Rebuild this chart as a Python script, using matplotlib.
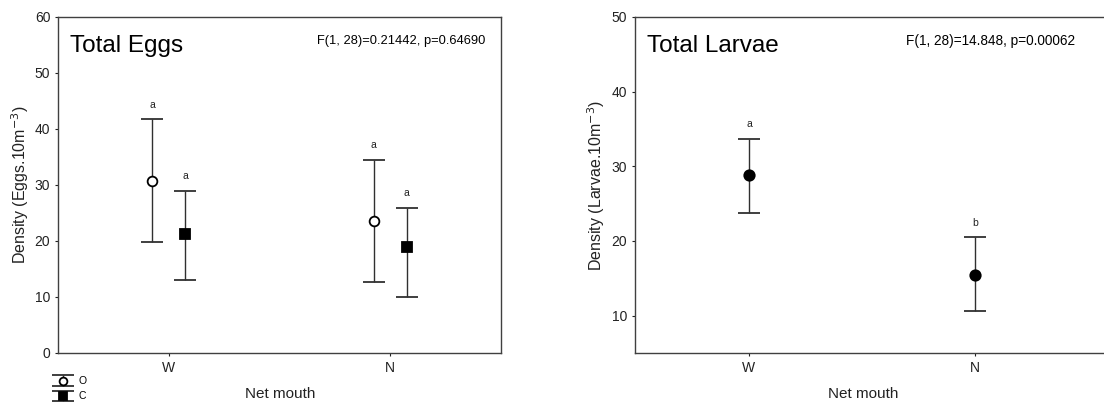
import numpy as np
import matplotlib.pyplot as plt

plt.rcParams['font.family'] = ['Liberation Sans', 'DejaVu Sans']

# datos
groups = ['W', 'N']
egg_O_mean = [30.8, 23.6]
egg_O_low = [19.8, 12.7]
egg_O_high = [41.7, 34.5]
egg_C_mean = [21.2, 19.0]
egg_C_low = [13.0, 10.0]
egg_C_high = [28.9, 25.9]
egg_O_letters = ['a', 'a']
egg_C_letters = ['a', 'a']

larv_mean = [28.8, 15.5]
larv_low = [23.8, 10.6]
larv_high = [33.7, 20.5]
larv_letters = ['a', 'b']

egg_stats = 'F(1, 28)=0.21442, p=0.64690'
larv_stats = 'F(1, 28)=14.848, p=0.00062'

spine_c = '#404040'
ink = '#222222'

fig = plt.figure(figsize=(11.04, 4.03), dpi=100)
W, H = 1104, 403
ax1 = fig.add_axes([58 / W, (H - 353) / H, 443 / W, 336 / H])
ax2 = fig.add_axes([635 / W, (H - 353) / H, 520 / W, 336 / H])

def style(ax):
    for s in ax.spines.values():
        s.set_color(spine_c)
        s.set_linewidth(1.0)
    ax.tick_params(colors=ink, labelsize=10, length=2, width=0.8)
    ax.set_xticks(range(len(groups)))
    ax.set_xticklabels(groups)
    ax.set_xlabel('Net mouth', fontsize=11, color=ink, va='center')

def draw(ax, xs, mean, low, high, letters, marker, face, ms):
    mean = np.array(mean)
    err = [mean - np.array(low), np.array(high) - mean]
    cont = ax.errorbar(xs, mean, yerr=err, fmt=marker, mfc=face, mec='black',
                       mew=1.3, ms=ms, ecolor='#303030', elinewidth=1.0,
                       capsize=8, capthick=1.0, zorder=3)
    for x, h, t in zip(xs, high, letters):
        ax.annotate(t, (x, h), xytext=(0, 7), textcoords='offset points',
                    ha='center', va='bottom', fontsize=7.5, color=ink)
    return cont

x = np.arange(len(groups))
off = 0.075

# Huevos
style(ax1)
hO = draw(ax1, x - off, egg_O_mean, egg_O_low, egg_O_high, egg_O_letters, 'o', 'white', 7)
hC = draw(ax1, x + off, egg_C_mean, egg_C_low, egg_C_high, egg_C_letters, 's', 'black', 7)
ax1.set_xlim(-0.5, 1.5)
ax1.set_ylim(0, 60)
ax1.set_yticks(np.arange(0, 61, 10))
ax1.set_ylabel('Density (Eggs.10m$^{-3}$)', fontsize=11.5, color=ink, va='center')
ax1.yaxis.set_label_coords((20 - 58) / 443, 0.5)
ax1.xaxis.set_label_coords((280 - 58) / 443, (353 - 394) / 336)
ax1.text(0.027, 0.915, 'Total Eggs', transform=ax1.transAxes, fontsize=17.5,
         ha='left', va='center', color='black')
ax1.text(0.965, 0.93, egg_stats, transform=ax1.transAxes, fontsize=9.3,
         ha='right', va='center', color='black')

# Larvas
style(ax2)
draw(ax2, x, larv_mean, larv_low, larv_high, larv_letters, 'o', 'black', 7.5)
ax2.set_xlim(-0.504, 520 / 226 - 0.504)
ax2.set_ylim(5, 50)
ax2.set_yticks(np.arange(10, 51, 10))
ax2.spines['right'].set_visible(False)
ax2.set_ylabel('Density (Larvae.10m$^{-3}$)', fontsize=11.5, color=ink, va='center')
ax2.yaxis.set_label_coords((596 - 635) / 520, 0.5)
ax2.xaxis.set_label_coords((863 - 635) / 520, (353 - 394) / 336)
ax2.text(0.024, 0.915, 'Total Larvae', transform=ax2.transAxes, fontsize=17.5,
         ha='left', va='center', color='black')
ax2.text(0.846, 0.93, larv_stats, transform=ax2.transAxes, fontsize=9.8,
         ha='right', va='center', color='black')

# leyenda
fig.legend([hO, hC], ['O', 'C'], loc='upper left', bbox_to_anchor=(50 / W, (H - 371) / H),
           frameon=False, fontsize=7.5, handlelength=1.4, handletextpad=0.8,
           labelspacing=0.5, borderpad=0, markerscale=0.8)

plt.savefig('out.png', dpi=100)
